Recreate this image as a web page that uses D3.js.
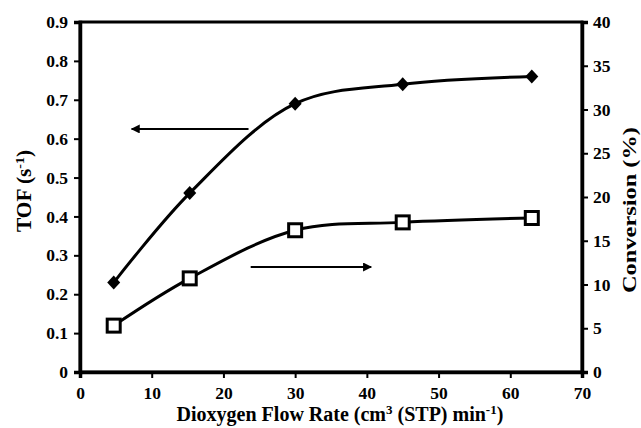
<!DOCTYPE html>
<html>
<head>
<meta charset="utf-8">
<script src="https://cdn.jsdelivr.net/npm/d3@7"></script>
<style>
  body { margin: 0; background: #fff; }
  text { font-family: "Liberation Serif", "Times New Roman", serif; font-weight: bold; fill: #000; }
</style>
</head>
<body>
<div id="chart"></div>
<script>
// flow rate of dioxygen, cm3 (STP) min-1
const flowRate = [4.7, 15.3, 30, 45, 63];
// turnover frequency (left axis)
const tof = [0.23, 0.46, 0.69, 0.74, 0.76];
// conversion % (right axis)
const conversion = [5.3, 10.7, 16.2, 17.1, 17.6];

const xTicks = [0, 10, 20, 30, 40, 50, 60, 70];
const yLeftTicks = [0, 0.1, 0.2, 0.3, 0.4, 0.5, 0.6, 0.7, 0.8, 0.9];
const yRightTicks = [0, 5, 10, 15, 20, 25, 30, 35, 40];

// arrows telling which axis belongs to which series
const tofArrow = {y: 0.625, from: 23.5, to: 7.2};
const convArrow = {y: 12.0, from: 23.8, to: 40.6};

const W = 641, H = 428;
const margin = {top: 22, right: 59, bottom: 56, left: 80};
const width = W - margin.left - margin.right;
const height = H - margin.top - margin.bottom;

const svg = d3.select("#chart").append("svg")
    .attr("width", W)
    .attr("height", H);

svg.append("defs").append("marker")
    .attr("id", "head")
    .attr("viewBox", "0 0 10 10")
    .attr("refX", 9).attr("refY", 5)
    .attr("markerWidth", 6).attr("markerHeight", 4.5)
    .attr("markerUnits", "strokeWidth")
    .attr("orient", "auto")
    .append("path")
    .attr("d", "M0,0 L10,5 L0,10 Z")
    .attr("fill", "#000");

const g = svg.append("g")
    .attr("transform", "translate(" + margin.left + "," + margin.top + ")");

const x = d3.scaleLinear().domain([0, 70]).range([0, width]);
const yL = d3.scaleLinear().domain([0, 0.9]).range([height, 0]);
const yR = d3.scaleLinear().domain([0, 40]).range([height, 0]);

// frame (top and right border)
g.append("rect")
    .attr("x", 0).attr("y", 0)
    .attr("width", width).attr("height", height)
    .attr("fill", "none")
    .attr("stroke", "#000")
    .attr("stroke-width", 3);

const xAxis = g.append("g")
    .attr("transform", "translate(0," + height + ")")
    .call(d3.axisBottom(x).tickValues(xTicks).tickSize(6).tickPadding(9).tickFormat(d3.format("d")));

const leftAxis = g.append("g")
    .call(d3.axisLeft(yL).tickValues(yLeftTicks).tickSize(6).tickPadding(6)
        .tickFormat(d => d === 0 ? "0" : d3.format(".1f")(d)));

const rightAxis = g.append("g")
    .attr("transform", "translate(" + width + ",0)")
    .call(d3.axisRight(yR).tickValues(yRightTicks).tickSize(6).tickPadding(5).tickFormat(d3.format("d")));

[xAxis, leftAxis, rightAxis].forEach(a => {
    a.select(".domain").attr("stroke", "#000").attr("stroke-width", 3.5);
    a.selectAll(".tick line").attr("stroke", "#000").attr("stroke-width", 2);
    a.selectAll(".tick text")
        .attr("font-size", 17.5)
        .attr("font-family", "Liberation Serif, Times New Roman, serif")
        .attr("font-weight", "bold");
});

const line = (ys, yScale) => d3.line()
    .x((d, i) => x(flowRate[i]))
    .y(d => yScale(d))
    .curve(d3.curveCatmullRom.alpha(0.5))(ys);

g.append("path")
    .attr("d", line(tof, yL))
    .attr("fill", "none")
    .attr("stroke", "#000")
    .attr("stroke-width", 3);

g.append("path")
    .attr("d", line(conversion, yR))
    .attr("fill", "none")
    .attr("stroke", "#000")
    .attr("stroke-width", 3);

// diamonds for TOF
g.selectAll(".tof-pt")
    .data(tof)
    .enter()
    .append("path")
    .attr("class", "tof-pt")
    .attr("transform", (d, i) => "translate(" + x(flowRate[i]) + "," + yL(d) + ")")
    .attr("d", "M0,-7 L6.5,0 L0,7 L-6.5,0 Z")
    .attr("fill", "#000");

// open squares for conversion
g.selectAll(".conv-pt")
    .data(conversion)
    .enter()
    .append("rect")
    .attr("class", "conv-pt")
    .attr("x", (d, i) => x(flowRate[i]) - 6.5)
    .attr("y", d => yR(d) - 6.5)
    .attr("width", 13).attr("height", 13)
    .attr("fill", "#fff")
    .attr("stroke", "#000")
    .attr("stroke-width", 3);

// arrows
g.append("line")
    .attr("x1", x(tofArrow.from)).attr("x2", x(tofArrow.to))
    .attr("y1", yL(tofArrow.y)).attr("y2", yL(tofArrow.y))
    .attr("stroke", "#000").attr("stroke-width", 2)
    .attr("marker-end", "url(#head)");

g.append("line")
    .attr("x1", x(convArrow.from)).attr("x2", x(convArrow.to))
    .attr("y1", yR(convArrow.y)).attr("y2", yR(convArrow.y))
    .attr("stroke", "#000").attr("stroke-width", 2)
    .attr("marker-end", "url(#head)");

// axis titles
const xTitle = svg.append("text")
    .attr("x", 340)
    .attr("y", 421)
    .attr("text-anchor", "middle")
    .attr("font-size", 20);
xTitle.append("tspan").text("Dioxygen Flow Rate (cm");
xTitle.append("tspan").attr("dy", -7).attr("font-size", 13).text("3");
xTitle.append("tspan").attr("dy", 7).text(" (STP) min");
xTitle.append("tspan").attr("dy", -7).attr("font-size", 13).text("-1");
xTitle.append("tspan").attr("dy", 7).text(")");

const yTitle = svg.append("text")
    .attr("transform", "translate(31,191) rotate(-90)")
    .attr("text-anchor", "middle")
    .attr("font-size", 20)
    .attr("textLength", 82)
    .attr("lengthAdjust", "spacingAndGlyphs");
yTitle.append("tspan").text("TOF  (s");
yTitle.append("tspan").attr("dy", -7).attr("font-size", 13).text("-1");
yTitle.append("tspan").attr("dy", 7).text(")");

svg.append("text")
    .attr("transform", "translate(636,210) rotate(-90)")
    .attr("text-anchor", "middle")
    .attr("font-size", 19)
    .attr("textLength", 166)
    .attr("lengthAdjust", "spacingAndGlyphs")
    .text("Conversion (%)");
</script>
</body>
</html>
